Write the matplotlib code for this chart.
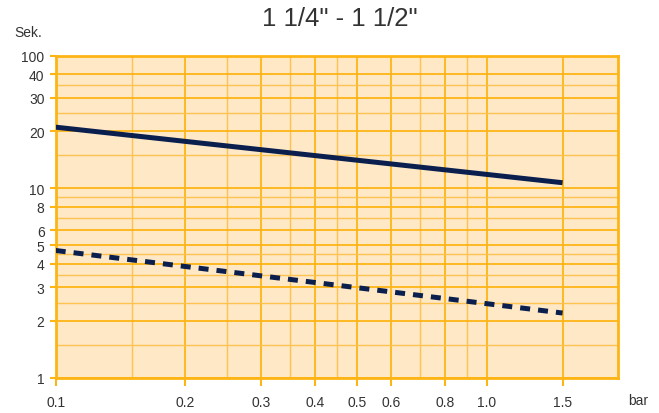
import numpy as np
import matplotlib
matplotlib.use("Agg")
import matplotlib.pyplot as plt
from matplotlib.ticker import FixedLocator, FixedFormatter, NullFormatter

plt.rcParams['font.family'] = ['Liberation Sans', 'DejaVu Sans']

# data
pressure = [0.1, 1.5]
time_solid = [21.0, 10.7]
time_dashed = [4.7, 2.2]

x_major = [0.1, 0.2, 0.3, 0.4, 0.5, 0.6, 0.8, 1.0, 1.5]
x_labels = ["0.1", "0.2", "0.3", "0.4", "0.5", "0.6", "0.8", "1.0", "1.5"]
x_minor = [0.15, 0.25, 0.35, 0.45, 0.7, 0.9]
y_major = [1, 2, 3, 4, 5, 6, 8, 10, 20, 30, 40, 50]
y_labels = ["1", "2", "3", "4", "5", "6", "8", "10", "20", "30", "40", "100"]
y_minor = [1.5, 2.5, 3.5, 4.5, 7, 9, 15, 25, 35]

orange = "#fdb515"
orange_light = "#fcc350"
fill = "#fee8c6"
navy = "#0b1f4f"
txt = "#333333"

fig = plt.figure(figsize=(6.59, 4.14), dpi=100)
ax = fig.add_axes([55.7 / 659, 35 / 414, 562.6 / 659, 322.3 / 414])
ax.set_facecolor(fill)
ax.set_xscale("log")
ax.set_yscale("log")
ax.set_xlim(0.1, 2.02)
ax.set_ylim(1, 50)

ax.xaxis.set_major_locator(FixedLocator(x_major))
ax.xaxis.set_major_formatter(FixedFormatter(x_labels))
ax.xaxis.set_minor_locator(FixedLocator(x_minor))
ax.xaxis.set_minor_formatter(NullFormatter())
ax.yaxis.set_major_locator(FixedLocator(y_major))
ax.yaxis.set_major_formatter(FixedFormatter(y_labels))
ax.yaxis.set_minor_locator(FixedLocator(y_minor))
ax.yaxis.set_minor_formatter(NullFormatter())

ax.grid(which="major", color=orange, lw=1.3, zorder=1)
ax.grid(which="minor", color=orange_light, lw=1.0, zorder=1)
ax.set_axisbelow(True)

ax.tick_params(axis="both", which="major", color=orange, width=1.5,
               labelsize=10, labelcolor=txt)
ax.tick_params(axis="y", which="major", length=4, pad=4)
ax.tick_params(axis="x", which="major", length=6, pad=6)
ax.tick_params(which="minor", length=0)
for s in ax.spines.values():
    s.set_color(orange)
    s.set_linewidth(2)

ax.plot(pressure, time_solid, color=navy, lw=3.6, solid_capstyle="butt", zorder=3)
ax.plot(pressure, time_dashed, color=navy, lw=3.6, dashes=(2, 1.6),
        dash_capstyle="butt", zorder=3)

fig.text(339.5 / 659, 1 - 19 / 414, "1 1/4\" - 1 1/2\"", ha="center", va="center",
         fontsize=18.5, color=txt)
fig.text(28 / 659, 1 - 33 / 414, "Sek.", ha="center", va="center",
         fontsize=10, color=txt)
fig.text(638 / 659, 1 - 401 / 414, "bar", ha="center", va="center",
         fontsize=10, color=txt)

fig.savefig("out.png", dpi=100)
